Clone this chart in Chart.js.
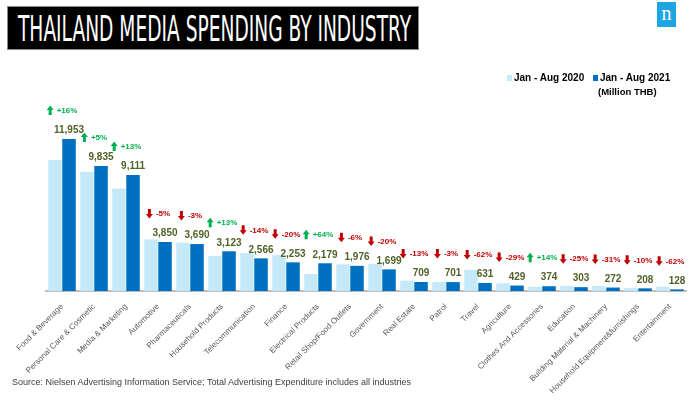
<!DOCTYPE html>
<html>
<head>
<meta charset="utf-8">
<script src="https://cdn.jsdelivr.net/npm/chart.js@4.4.1/dist/chart.umd.min.js"></script>
<style>
  html,body{margin:0;padding:0;background:#fff;}
  #wrap{position:relative;width:700px;height:401px;overflow:hidden;font-family:'Liberation Sans',Arial,sans-serif;}
  #c{position:absolute;left:0;top:0;}
  #title{position:absolute;left:7px;top:6px;width:412px;height:44px;background:#000;border:1px solid #888;box-sizing:border-box;overflow:hidden;}
  #titleText{position:absolute;left:10px;top:2px;color:#fff;font-family:'Liberation Sans Narrow','DejaVu Sans Condensed',sans-serif;font-size:36px;line-height:40px;white-space:nowrap;transform-origin:0 50%;}
  #logo{position:absolute;left:657px;top:2px;width:19px;height:25px;background:#1ea6e3;color:#fff;font-family:'Liberation Serif',serif;font-size:20px;line-height:22px;text-align:center;}
  .leg{position:absolute;font-weight:bold;font-size:10px;color:#000;white-space:nowrap;}
  .sw{display:inline-block;width:5px;height:6px;margin-right:2px;vertical-align:0px;}
  #source{position:absolute;left:12px;top:377px;font-size:9px;color:#404040;white-space:nowrap;}
</style>
</head>
<body>
<div id="wrap">
  <canvas id="c" width="700" height="401"></canvas>
  <div id="title"><span id="titleText">THAILAND MEDIA SPENDING BY INDUSTRY</span></div>
  <div id="logo">n</div>
  <div class="leg" style="left:507px;top:72px;"><span class="sw" style="background:#c5e9f9"></span>Jan - Aug 2020</div>
  <div class="leg" style="left:593px;top:72px;"><span class="sw" style="background:#0070c0"></span>Jan - Aug 2021</div>
  <div class="leg" style="left:598px;top:86px;font-size:9.5px;">(Million THB)</div>
  <div id="source">Source: Nielsen Advertising Information Service; Total Advertising Expenditure includes all industries</div>
</div>
<script>
const categories = ["Food & Beverage","Personal Care & Cosmetic","Media & Marketing","Automotive","Pharmaceuticals","Household Products","Telecommunication","Finance","Electrical Products","Retail Shop/Food Outlets","Government","Real Estate","Patrol","Travel","Agriculture","Clothes And Accessories","Education","Building Material & Machinery","Household Equipment&furnishings","Entertainment"];
const spend2020 = [10300,9370,8060,4050,3800,2760,2980,2820,1330,2100,2120,815,723,1660,604,328,404,394,231,337];
const spend2021 = [11953,9835,9111,3850,3690,3123,2566,2253,2179,1976,1699,709,701,631,429,374,303,272,208,128];
const changePct = [16,5,13,-5,-3,13,-14,-20,64,-6,-20,-13,-3,-62,-29,14,-25,-31,-10,-62];
const seriesNames = ["Jan - Aug 2020","Jan - Aug 2021"];

// fit title width
(function(){
  const t=document.getElementById('titleText');
  const w=t.getBoundingClientRect().width;
  t.style.transform='scaleX('+(393/w)+')';
})();

const GREEN='#00b050', RED='#c00000', OLIVE='#4f6228';

const labelPlugin={
  id:'labels',
  afterDatasetsDraw(chart){
    const ctx=chart.ctx;
    const meta=chart.getDatasetMeta(1);
    const xs=chart.scales.x;
    ctx.save();
    for(let i=0;i<categories.length;i++){
      const bar=meta.data[i];
      const ly=bar.y-8.5;
      ctx.font='bold 10px "Liberation Sans", Arial, sans-serif';
      ctx.fillStyle=OLIVE;
      ctx.textAlign='center';
      ctx.textBaseline='middle';
      ctx.fillText(spend2021[i].toLocaleString('en-US'),bar.x,ly);
      // pct annotation
      const p=changePct[i];
      const up=p>=0;
      const txt=(up?'+':'')+p+'%';
      ctx.font='bold 8px "Liberation Sans", Arial, sans-serif';
      const tw=ctx.measureText(txt).width;
      const aw=7, gap=3;
      const total=aw+gap+tw;
      const cx=xs.getPixelForValue(i);
      const py=ly-20;
      const x0=cx-total/2;
      const col=up?GREEN:RED;
      ctx.fillStyle=col;
      ctx.beginPath();
      if(up){
        ctx.moveTo(x0+aw/2,py-5);
        ctx.lineTo(x0+aw,py-0.5);
        ctx.lineTo(x0+aw-2,py-0.5);
        ctx.lineTo(x0+aw-2,py+4.5);
        ctx.lineTo(x0+2,py+4.5);
        ctx.lineTo(x0+2,py-0.5);
        ctx.lineTo(x0,py-0.5);
      }else{
        ctx.moveTo(x0+aw/2,py+5);
        ctx.lineTo(x0+aw,py+0.5);
        ctx.lineTo(x0+aw-2,py+0.5);
        ctx.lineTo(x0+aw-2,py-4.5);
        ctx.lineTo(x0+2,py-4.5);
        ctx.lineTo(x0+2,py+0.5);
        ctx.lineTo(x0,py+0.5);
      }
      ctx.closePath();
      ctx.fill();
      ctx.textAlign='left';
      ctx.fillText(txt,x0+aw+gap,py+0.5);
    }
    ctx.restore();
  }
};

new Chart(document.getElementById('c'),{
  type:'bar',
  data:{
    labels:categories,
    datasets:[
      {label:seriesNames[0],data:spend2020,backgroundColor:'#c5e9f9',borderWidth:0,barPercentage:0.96,categoryPercentage:0.88},
      {label:seriesNames[1],data:spend2021,backgroundColor:'#0070c0',borderWidth:0,barPercentage:0.96,categoryPercentage:0.88}
    ]
  },
  options:{
    responsive:false,
    animation:false,
    devicePixelRatio:1,
    layout:{padding:{left:46,right:14,top:62,bottom:0}},
    plugins:{legend:{display:false},tooltip:{enabled:false}},
    scales:{
      x:{
        grid:{display:false},
        border:{color:'#bfbfbf',width:2},
        ticks:{minRotation:45,maxRotation:45,autoSkip:false,color:'#595959',padding:3,font:{size:8,family:'"Liberation Sans", Arial, sans-serif'}},
        afterFit(s){s.height=110;}
      },
      y:{display:false,min:0,max:18000}
    }
  },
  plugins:[labelPlugin]
});
</script>
</body>
</html>
